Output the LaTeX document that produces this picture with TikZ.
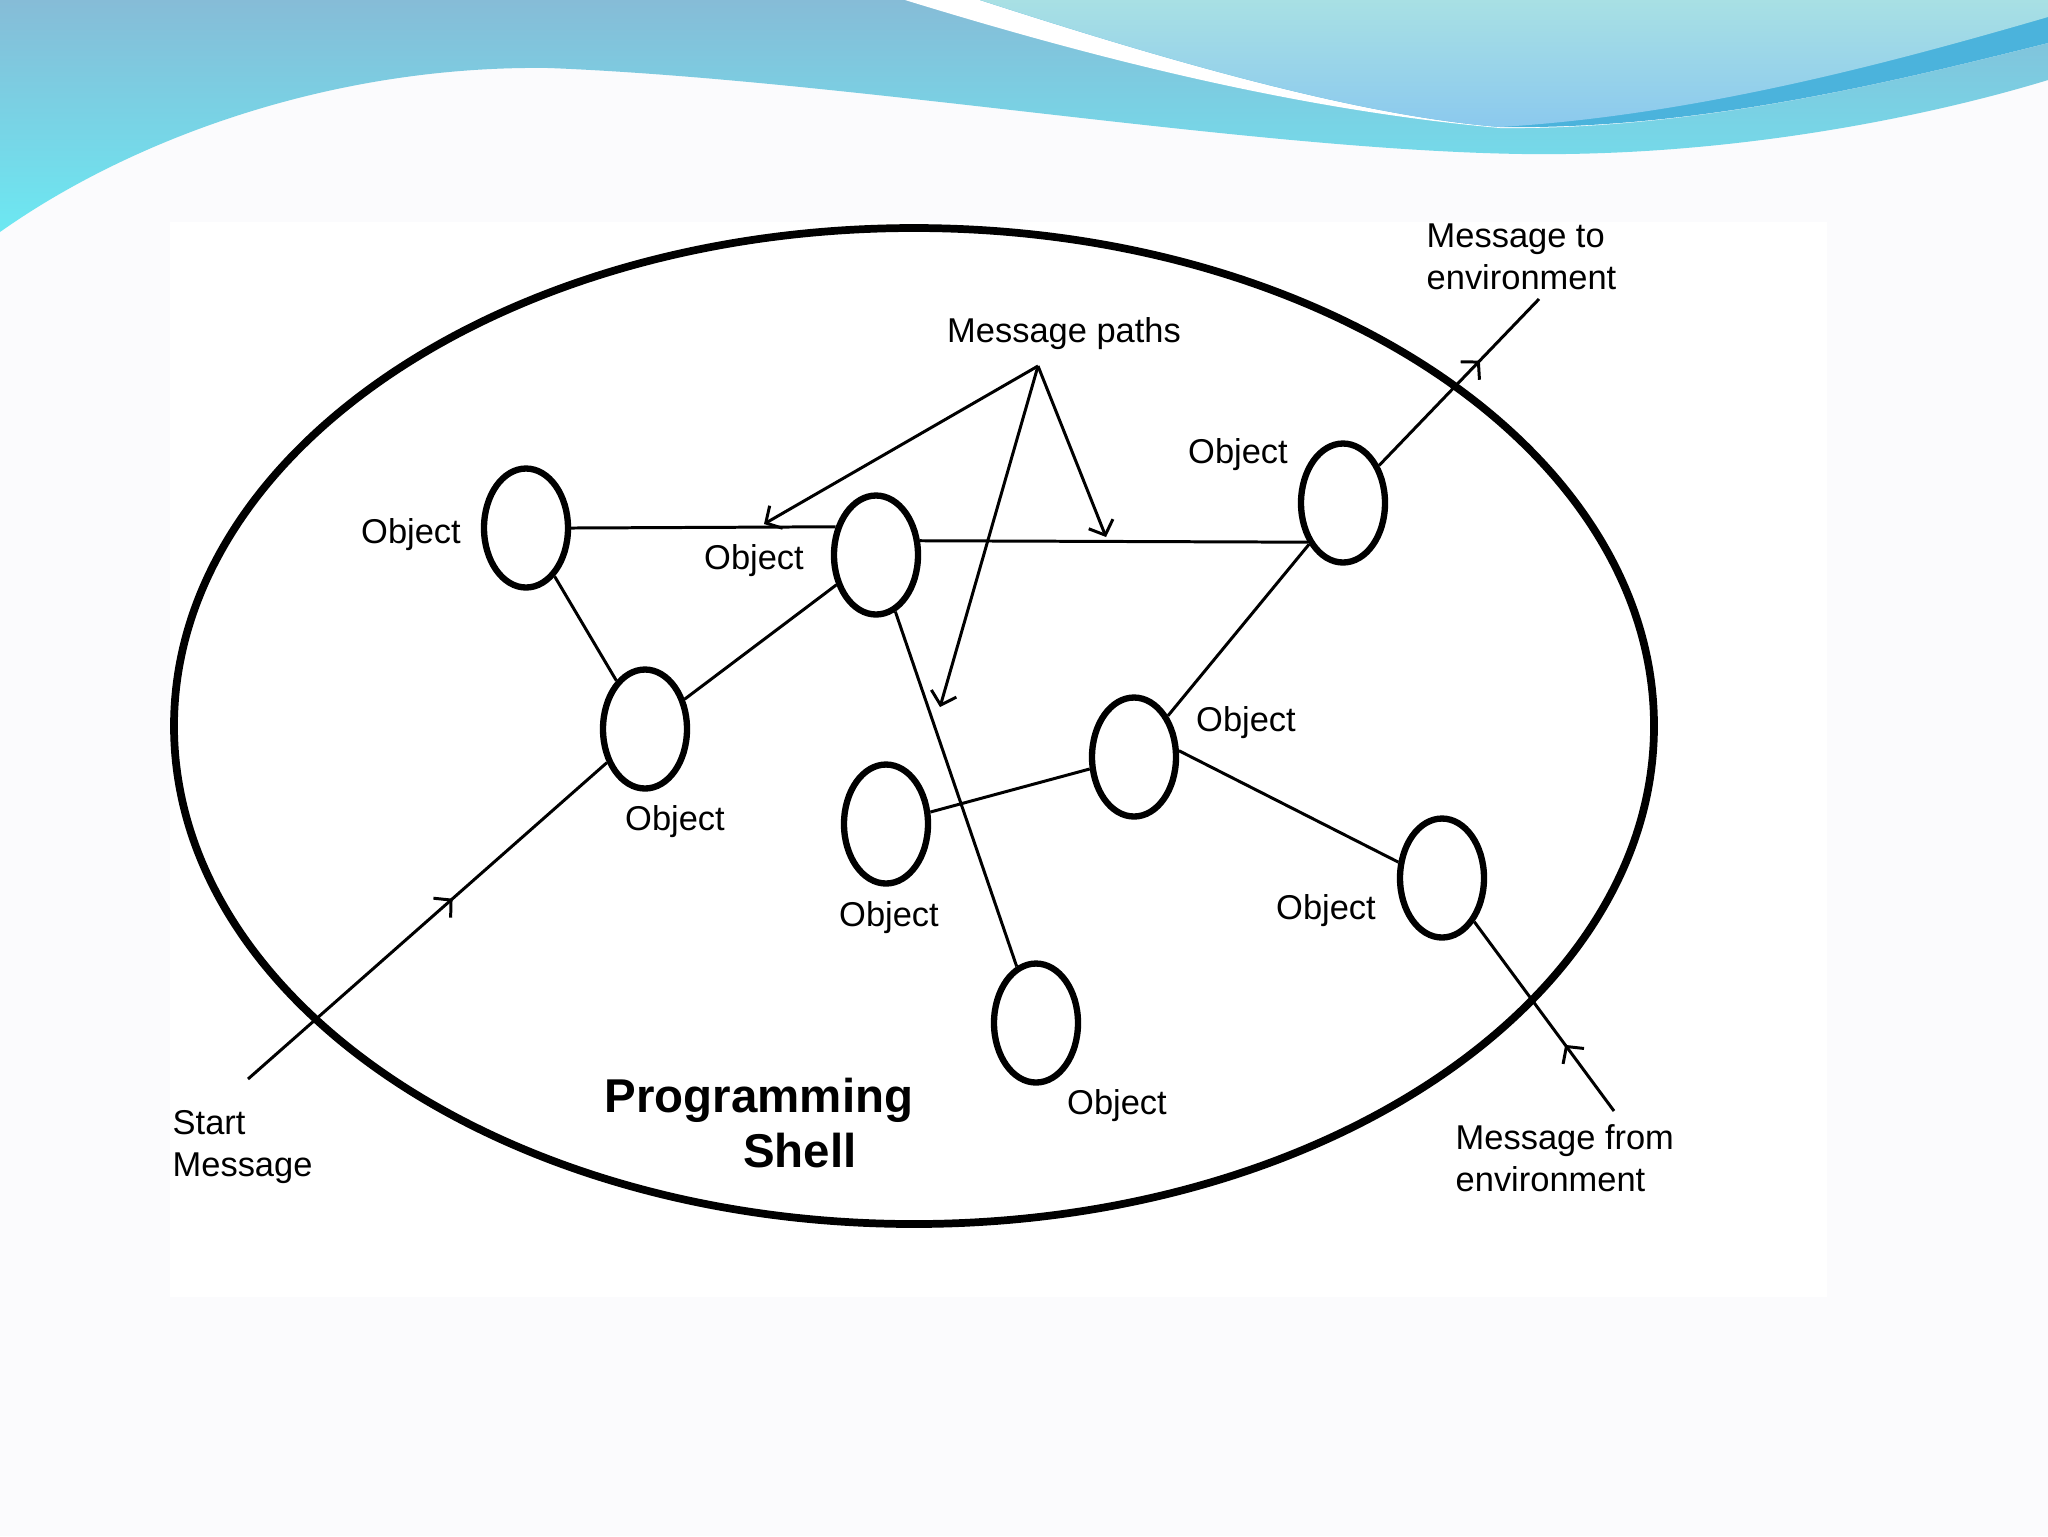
\documentclass[tikz,border=0pt]{standalone}
\usepackage{fontspec}
\setmainfont{Liberation Sans}
\usetikzlibrary{shapes.geometric,arrows.meta,decorations.markings}

\definecolor{pagebg}{RGB}{251,251,253}
\definecolor{waveTop}{RGB}{134,188,215}
\definecolor{waveBot}{RGB}{108,232,242}
\definecolor{lightTop}{RGB}{168,224,228}
\definecolor{lightBot}{RGB}{139,201,238}
\definecolor{stripe}{RGB}{75,179,220}

\begin{document}
\begin{tikzpicture}[x=0.1mm, y=-0.1mm,
    shell/.style={ellipse, draw, line width=2.2pt, minimum width=148mm, minimum height=99.6mm, inner sep=0pt},
    obj/.style={ellipse, draw, line width=1.8pt, minimum width=8.4mm, minimum height=11.9mm, inner sep=0pt},
    lbl/.style={font=\fontsize{9.8}{12}\selectfont, inner sep=0pt, align=left},
    title/.style={font=\fontsize{13.5}{16}\selectfont\bfseries, inner sep=0pt},
    msg/.style={line width=0.85pt},
    arr/.style={-{Straight Barb[length=1.2mm,width=2.6mm]}},
    midarrow/.style={postaction={decorate}, decoration={markings,
        mark=at position #1 with {\arrow{Straight Barb[length=1.2mm,width=2.6mm]}}}}]
    % slide background
    \fill[pagebg] (0,0) rectangle (2048,1536);
    \useasboundingbox (0,0) rectangle (2048,1536);
    \shade[top color=waveTop, bottom color=waveBot] (0,0) -- (2048,0) -- (2048,80)
        .. controls (1950,110) and (1750,157) .. (1523,154)
        .. controls (1250,150) and (850,80) .. (549,68)
        .. controls (330,65) and (130,140) .. (0,232) -- cycle;
    \fill[white] (905,0) .. controls (1100,60) and (1300,110) .. (1500,128)
        .. controls (1700,130) and (1900,80) .. (2048,43) -- (2048,0) -- cycle;
    \fill[stripe] (980,0) .. controls (1150,55) and (1350,115) .. (1500,127)
        .. controls (1700,130) and (1900,80) .. (2048,43) -- (2048,0) -- cycle;
    \shade[top color=lightTop, bottom color=lightBot] (980,0) .. controls (1150,55) and (1350,115) .. (1500,127)
        .. controls (1700,115) and (1900,60) .. (2048,17) -- (2048,0) -- cycle;
    \fill[white] (170,222) rectangle (1827,1297);

    % shell and objects
    \node[shell] (shell) at (914,726) {};
    \node[obj] (O1) at (526,528) {};
    \node[obj] (O2) at (876,555) {};
    \node[obj] (O3) at (645,729) {};
    \node[obj] (O4) at (1343,503) {};
    \node[obj] (O5) at (1134,757) {};
    \node[obj] (O6) at (886,824) {};
    \node[obj] (O7) at (1036,1023) {};
    \node[obj] (O8) at (1442,878) {};

    \node[lbl] (L1) at (411,535) {Object};
    \node[lbl] (L2) at (754,561) {Object};
    \node[lbl] (L3) at (675,822) {Object};
    \node[lbl] (L4) at (1238,455) {Object};
    \node[lbl] (L5) at (1246,723) {Object};
    \node[lbl] (L6) at (889,918) {Object};
    \node[lbl] (L7) at (1117,1106) {Object};
    \node[lbl] (L8) at (1326,911) {Object};

    \node[lbl] (paths) at (1064,334) {Message paths};
    \node[lbl, anchor=west] (toenv) at (1426,257) {Message to\\environment};
    \node[lbl, anchor=west] (fromenv) at (1455,1158) {Message from\\environment};
    \node[lbl, anchor=west] (startmsg) at (172,1147) {Start\\Message};
    \node[title] (prog) at (759,1100) {Programming};
    \node[title] (shl) at (800,1151) {Shell};

    \coordinate (startpt) at (248,1079);
    \coordinate (outpt) at (1539,299);
    \coordinate (inpt) at (1614,1111);
    \coordinate (apex) at (1038,366);
    \coordinate (hit1) at (764,524);
    \coordinate (hit2) at (940,707);
    \coordinate (hit3) at (1106,537);

    % links between objects
    \draw[msg] (O1.east) -- (O2.145);
    \draw[msg] (O2.18) -- (O4.228);
    \draw[msg] (O1) -- (O3);
    \draw[msg] (O2) -- (O3);
    \draw[msg] (O2) -- (O7);
    \draw[msg] (O4) -- (O5);
    \draw[msg] (O5) -- (O6);
    \draw[msg] (O5.8) -- (O8.160);

    % messages in and out
    \draw[msg, midarrow=0.57] (startpt) -- (O3);
    \draw[msg, midarrow=0.63] (O4) -- (outpt);
    \draw[msg, midarrow=0.35] (inpt) -- (O8);
    \draw[msg, arr] (apex) -- (hit1);
    \draw[msg, arr] (apex) -- (hit2);
    \draw[msg, arr] (apex) -- (hit3);
\end{tikzpicture}
\end{document}
